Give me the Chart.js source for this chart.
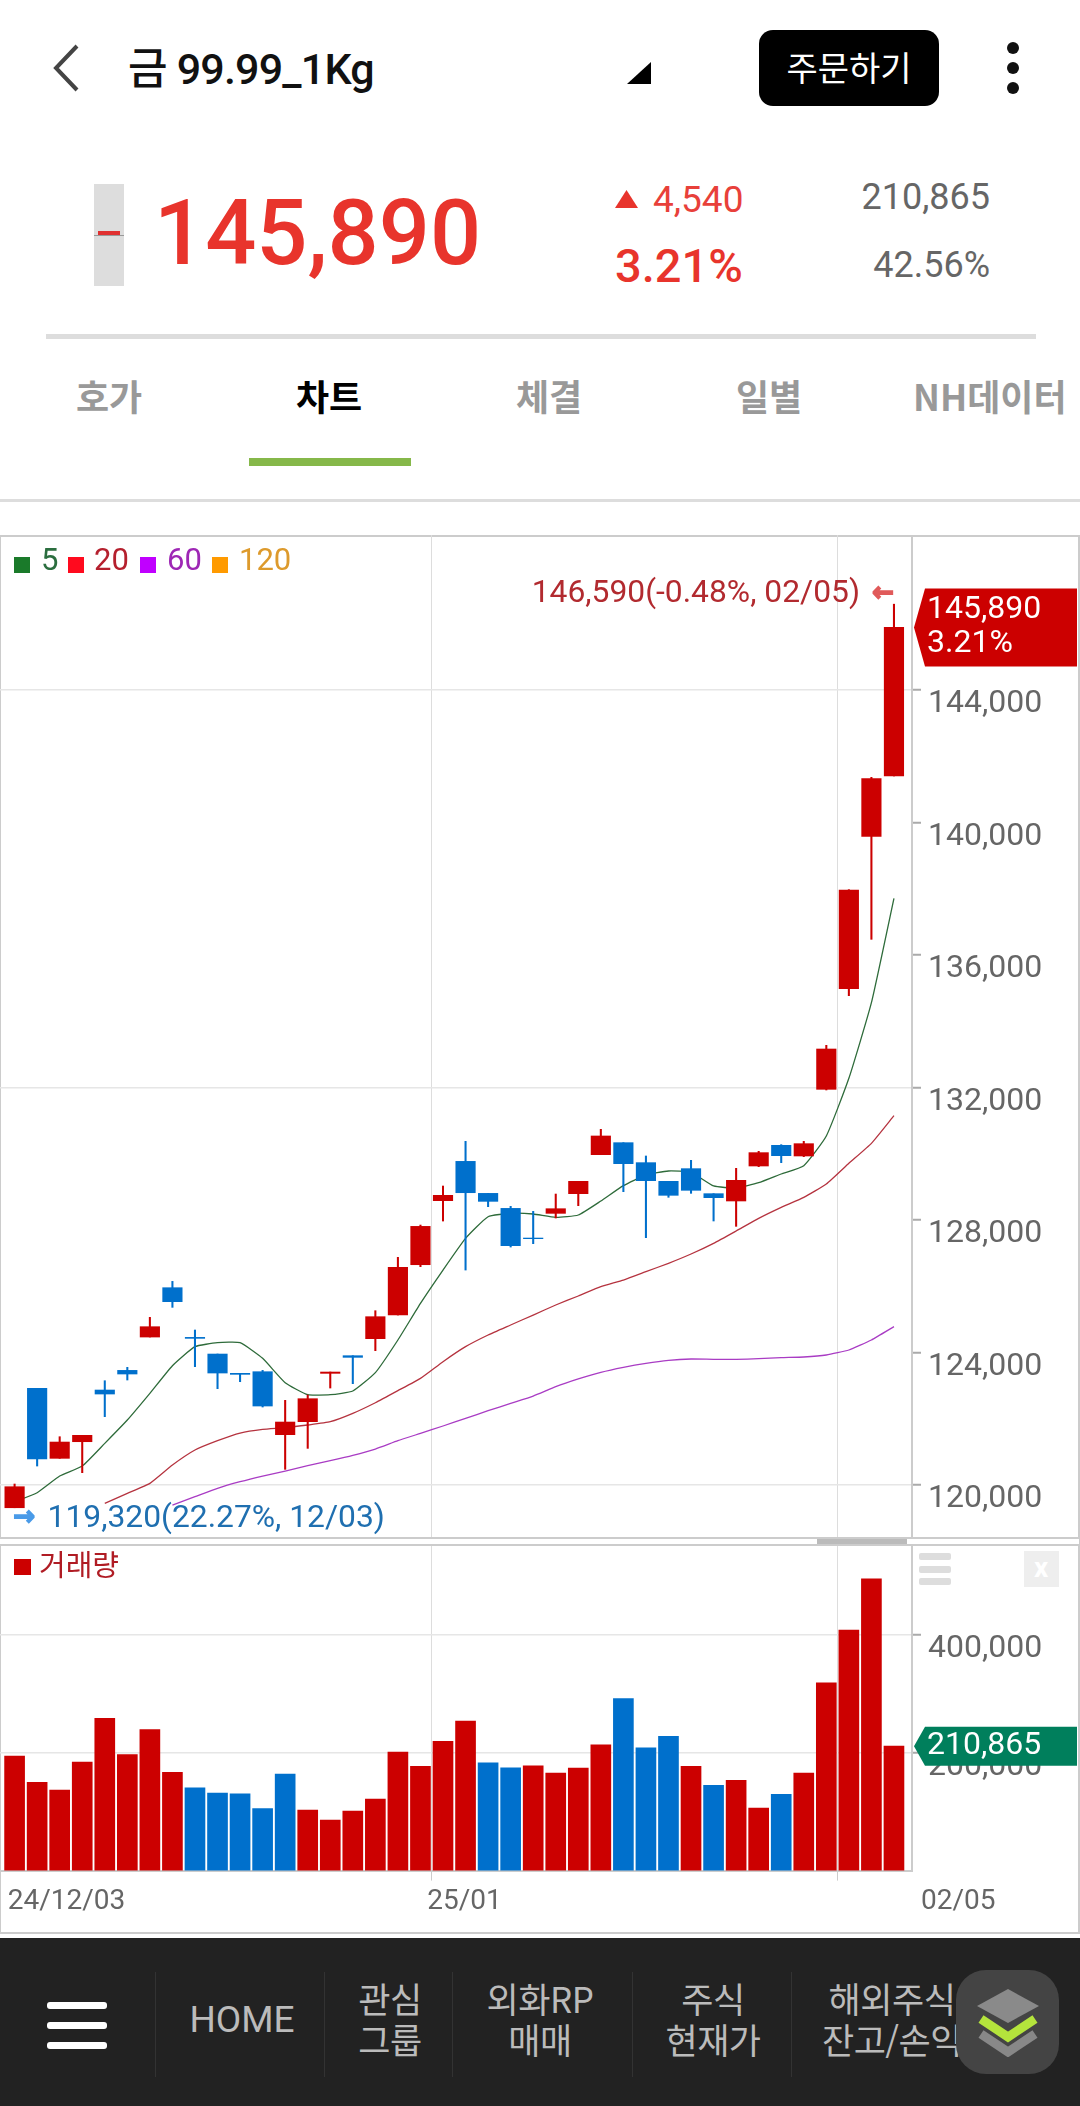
<!DOCTYPE html>
<html lang="ko">
<head>
<meta charset="utf-8">
<title>금 99.99_1Kg</title>
<script src="https://cdn.jsdelivr.net/npm/chart.js@4"></script>
<style>
html, body { margin: 0; padding: 0; background: #fff; width: 1080px; height: 2106px; overflow: hidden; }
body { position: relative; font-family: Roboto, "Noto Sans CJK KR", sans-serif; }
.t { position: absolute; line-height: 0; white-space: nowrap; }
.c { transform: translateX(-50%); }
.box { position: absolute; }
canvas { position: absolute; left: 0; }
.tab { font-size: 36px; font-weight: 700; color: #999; top: 395px; font-family: "Noto Sans CJK KR", sans-serif; }
.nav { font-size: 35px; color: #bbb; font-family: "Noto Sans CJK KR", sans-serif; letter-spacing: -0.5px; }
.sq { position: absolute; width: 16px; height: 16px; top: 557px; }
.lg { font-size: 31px; top: 560px; }
.bar { position: absolute; left: 47px; width: 60px; height: 7px; background: #fff; border-radius: 3px; }
.div { position: absolute; top: 1972px; width: 1px; height: 105px; background: #333; }
.hb { position: absolute; left: 919px; width: 32px; height: 7px; background: #ddd; border-radius: 2px; }
</style>
</head>
<body>
<!-- header -->
<svg class="box" style="left:50px;top:42px" width="34" height="52"><polyline points="27,4 6,26 27,48" fill="none" stroke="#444" stroke-width="4"/></svg>
<div class="t" style="left:128px;top:69px;font-size:43px;font-weight:500;color:#111;letter-spacing:-0.8px">금 99.99_1Kg</div>
<svg class="box" style="left:627px;top:62px" width="24" height="22"><polygon points="24,0 24,22 0,22" fill="#000"/></svg>
<div class="box" style="left:759px;top:30px;width:180px;height:76px;background:#000;border-radius:14px"></div>
<div class="t c" style="left:849px;top:67px;font-size:34px;color:#fff;font-family:'Noto Sans CJK KR'">주문하기</div>
<div class="box" style="left:1007px;top:42px;width:12px;height:12px;border-radius:6px;background:#111"></div>
<div class="box" style="left:1007px;top:62px;width:12px;height:12px;border-radius:6px;background:#111"></div>
<div class="box" style="left:1007px;top:82px;width:12px;height:12px;border-radius:6px;background:#111"></div>

<!-- quote -->
<div class="box" style="left:94px;top:184px;width:30px;height:102px;background:#ddd"></div>
<div class="box" style="left:98px;top:231px;width:22px;height:4px;background:#e03030"></div>
<div class="box" style="left:94px;top:235px;width:30px;height:1px;background:#999"></div>
<div class="t" style="left:154px;top:234px;font-size:90px;font-weight:500;color:#e8342c">145,890</div>
<svg class="box" style="left:615px;top:190px" width="23" height="18"><polygon points="11.5,0 23,18 0,18" fill="#e8342c"/></svg>
<div class="t" style="left:653px;top:200px;font-size:37px;color:#e8403a">4,540</div>
<div class="t" style="left:615px;top:266px;font-size:47px;font-weight:500;color:#e8342c">3.21%</div>
<div class="t" style="right:90px;top:197px;font-size:36px;color:#666">210,865</div>
<div class="t" style="right:90px;top:265px;font-size:36px;color:#666">42.56%</div>
<div class="box" style="left:46px;top:334px;width:990px;height:5px;background:#ddd"></div>

<!-- tabs -->
<div class="t tab" style="left:76px">호가</div>
<div class="t tab" style="left:296px;color:#000">차트</div>
<div class="t tab" style="left:516px">체결</div>
<div class="t tab" style="left:736px">일별</div>
<div class="t tab" style="left:913px">NH데이터</div>
<div class="box" style="left:249px;top:458px;width:162px;height:8px;background:#86b84a"></div>
<div class="box" style="left:0;top:499px;width:1080px;height:3px;background:#ddd"></div>

<!-- chart panel -->
<div class="box" style="left:0;top:535px;width:1077px;height:1395px;border:2px solid #ccc;border-left-width:1px;box-sizing:content-box"></div>
<div class="box" style="left:0;top:1537px;width:1079px;height:9px;background:#fff;border-top:2px solid #ccc;border-bottom:2px solid #ccc;box-sizing:border-box"></div>
<canvas id="priceChart" style="top:535px" width="1080" height="1002"></canvas>
<canvas id="volumeChart" style="top:1546px" width="1080" height="384"></canvas>
<div class="box" style="left:817px;top:1539px;width:90px;height:5px;background:#bbb"></div>

<div class="sq" style="left:14px;background:#1a7a2a"></div><div class="t lg" style="left:41px;color:#2b6e3f">5</div>
<div class="sq" style="left:68px;background:#ff0a1e"></div><div class="t lg" style="left:94px;color:#b5202e">20</div>
<div class="sq" style="left:140px;background:#c000ff"></div><div class="t lg" style="left:167px;color:#9e27b5">60</div>
<div class="sq" style="left:212px;background:#ff9a00"></div><div class="t lg" style="left:239px;color:#dd9a2c">120</div>

<div class="box" style="left:14px;top:1559px;width:17px;height:16px;background:#c00"></div>
<div class="t" style="left:39px;top:1563px;font-size:29px;color:#b01c24;font-family:'Noto Sans CJK KR'">거래량</div>
<div class="hb" style="top:1553px"></div><div class="hb" style="top:1566px"></div><div class="hb" style="top:1578px"></div>
<div class="box" style="left:1024px;top:1551px;width:35px;height:36px;background:#eee"></div>
<div class="t c" style="left:1041px;top:1568px;font-size:28px;font-weight:700;color:#fff">x</div>

<!-- bottom nav -->
<div class="box" style="left:0;top:1938px;width:1080px;height:168px;background:#222"></div>
<div class="bar" style="top:2002px"></div><div class="bar" style="top:2022px"></div><div class="bar" style="top:2042px"></div>
<div class="div" style="left:155px"></div><div class="div" style="left:324px"></div><div class="div" style="left:452px"></div><div class="div" style="left:632px"></div><div class="div" style="left:791px"></div>
<div class="t c" style="left:242px;top:2020px;font-size:37px;color:#bbb">HOME</div>
<div class="t c nav" style="left:390px;top:1998px">관심</div><div class="t c nav" style="left:390px;top:2039px">그룹</div>
<div class="t c nav" style="left:540px;top:1998px">외화RP</div><div class="t c nav" style="left:540px;top:2039px">매매</div>
<div class="t c nav" style="left:713px;top:1998px">주식</div><div class="t c nav" style="left:713px;top:2039px">현재가</div>
<div class="t c nav" style="left:892px;top:1998px">해외주식</div><div class="t c nav" style="left:892px;top:2039px">잔고/손익</div>
<div class="box" style="left:956px;top:1970px;width:103px;height:104px;background:#444;border-radius:30px"></div>
<svg class="box" style="left:977px;top:1989px" width="62" height="68">
  <polyline points="4,45 31,63 58,45" fill="none" stroke="#888" stroke-width="9"/>
  <polygon points="31,0 62,17 31,34 0,17" fill="#8a8a8a"/>
  <polyline points="4,30 31,48 58,30" fill="none" stroke="#b4e43c" stroke-width="9"/>
</svg>

<script>
// --- Data ---
const opens  = [119320,122923,120811,121313,122873,123466,124472,125961,124462,123959,123376,123426,121525,121917,123376,123909,124422,125136,126655,128587,129774,128808,128355,127460,128205,128799,129976,130338,129735,129171,129554,128799,128578,129634,130258,129936,131948,134986,139584,141405];
const highs  = [120036,122923,121464,121505,123154,123557,125066,126152,124684,123959,123376,123466,122561,122722,123416,123909,125267,126877,127852,129030,130378,128808,128416,128265,128788,129171,130741,130338,129936,129171,129805,128799,129564,130077,130278,130378,133276,137974,141364,146590];
const lows   = [119320,120579,120811,120378,122068,123175,124472,125368,123577,122913,123124,122360,120479,121112,122933,123064,124060,125136,126595,127973,126494,128406,127188,127289,128064,128437,129976,128859,127471,128689,128809,127974,127813,129614,129735,129916,131928,134775,136475,141405];
const closes = [119955,120790,121303,121505,122752,123356,124784,125539,124432,123386,123346,122390,121907,122611,123416,123859,125086,126575,127812,128748,128828,128567,127229,127440,128345,129171,130540,129705,129191,128749,128900,128678,129202,130037,129946,130308,133165,137964,141324,145890];

const ma5  = [119502,119774,120277,120579,121263,121967,122772,123607,124181,124301,124301,123829,123094,122732,122732,122843,123396,124382,125488,126494,127450,128104,128205,128185,128085,128155,128578,129041,129363,129483,129443,129031,128970,129131,129393,129644,130540,132280,134564,137713];
const ma20 = [null,null,null,null,119452,119754,120056,120609,121062,121344,121575,121686,121736,121817,121917,122169,122490,122853,123225,123728,124181,124533,124835,125136,125439,125711,125992,126193,126445,126697,126978,127300,127673,128055,128387,128688,129091,129715,130318,131153];
const ma60 = [null,null,null,null,null,null,null,119402,119653,119905,120106,120277,120428,120589,120740,120901,121092,121344,121565,121787,122018,122249,122471,122692,122974,123206,123407,123558,123679,123769,123809,123799,123799,123819,123850,123870,123930,124081,124383,124785];

const volumes = [194000,149600,136300,183800,258000,196500,239000,166700,140100,131200,130000,105200,163500,102700,85600,100800,121100,201000,176900,219300,253600,182600,174300,177500,165500,173700,213000,291600,207900,227600,176900,144500,152800,105900,129300,165500,318200,407600,494500,210865];
const volumeDownDays = [8,9,10,11,12,21,22,27,28,29,31,34];

const priceTicks  = [120000,124000,128000,132000,136000,140000,144000];
const volumeTicks = [200000,400000];
const monthLines  = [18.5,36.5];
const dateLabels  = ['24/12/03','25/01','02/05'];

const RED = '#cc0000', BLUE = '#0070cc';
const FONT = 'Roboto, "Noto Sans CJK KR", sans-serif';
const days = closes.map((_, i) => i);

// --- Shared scale bits ---
const xRange = { type: 'linear', min: -0.647, max: 39.8, offset: false };
const fmt = v => Number(v).toLocaleString('en-US');
const xGrid = { color: '#dddddd', lineWidth: 1, offset: false };
const noPadding = s => { s.paddingTop = s.paddingBottom = s.paddingLeft = s.paddingRight = 0; };

function yAxis(tickValues, min, max, gridColor) {
    return {
        position: 'right', min, max,
        afterBuildTicks: s => { s.ticks = tickValues.map(value => ({ value })); },
        afterFit: s => { s.width = 168; noPadding(s); },
        border: { color: '#cccccc', width: 2 },
        grid: { color: gridColor, lineWidth: 1.5, tickLength: 9, tickColor: '#aaaaaa', tickWidth: 2 },
        ticks: { color: '#666', font: { family: FONT, size: 32 }, padding: 7, labelOffset: 14, callback: fmt }
    };
}

// Price tag on the right axis, sits at the value through the y scale
function drawTag(chart, value, color, lines, h) {
    const { ctx, scales: { y } } = chart;
    const cy = y.getPixelForValue(value);
    ctx.save();
    ctx.fillStyle = color;
    ctx.beginPath();
    ctx.moveTo(914, cy);
    ctx.lineTo(925, cy - h / 2);
    ctx.lineTo(1077, cy - h / 2);
    ctx.lineTo(1077, cy + h / 2);
    ctx.lineTo(925, cy + h / 2);
    ctx.closePath();
    ctx.fill();
    ctx.fillStyle = '#fff';
    ctx.font = '32px ' + FONT;
    ctx.textBaseline = 'middle';
    lines.forEach((s, i) => ctx.fillText(s, 927, cy + (i - (lines.length - 1) / 2) * 34));
    ctx.restore();
}

const priceNotes = {
    id: 'priceNotes',
    afterDraw(chart) {
        const { ctx, scales: { x, y } } = chart;
        const hi = highs.indexOf(Math.max(...highs));
        const lo = lows.indexOf(Math.min(...lows));
        ctx.save();
        ctx.font = '31.8px ' + FONT;
        ctx.textBaseline = 'middle';
        // highest / lowest notes
        ctx.fillStyle = '#b22a2f';
        ctx.textAlign = 'right';
        ctx.fillText('146,590(-0.48%, 02/05)', x.getPixelForValue(hi) - 34, y.getPixelForValue(highs[hi]) - 10);
        ctx.fillStyle = '#1f6fb0';
        ctx.textAlign = 'left';
        ctx.fillText('119,320(22.27%, 12/03)', x.getPixelForValue(lo) + 33, y.getPixelForValue(lows[lo]) + 11);
        // little arrows
        ctx.font = 'bold 26px "DejaVu Sans"';
        ctx.lineWidth = 1.6;
        ctx.fillStyle = ctx.strokeStyle = '#e05a5a';
        ctx.textAlign = 'right';
        ctx.fillText('←', x.getPixelForValue(hi) - 0, y.getPixelForValue(highs[hi]) - 10);
        ctx.strokeText('←', x.getPixelForValue(hi) - 0, y.getPixelForValue(highs[hi]) - 10);
        ctx.fillStyle = ctx.strokeStyle = '#4a9be8';
        ctx.textAlign = 'left';
        ctx.fillText('→', x.getPixelForValue(lo) - 1, y.getPixelForValue(lows[lo]) + 11);
        ctx.strokeText('→', x.getPixelForValue(lo) - 1, y.getPixelForValue(lows[lo]) + 11);
        ctx.restore();
        drawTag(chart, closes[closes.length - 1], RED, ['145,890', '3.21%'], 78);
    }
};

const volumeNotes = {
    id: 'volumeNotes',
    afterDraw(chart) {
        const { ctx, scales: { x } } = chart;
        drawTag(chart, volumes[volumes.length - 1], '#007f5c', ['210,865'], 39);
        ctx.save();
        ctx.font = '28px ' + FONT;
        ctx.fillStyle = '#666';
        ctx.textBaseline = 'middle';
        ctx.fillText(dateLabels[0], x.getPixelForValue(-0.3), 356);
        ctx.fillText(dateLabels[1], x.getPixelForValue(18.3), 356);
        ctx.fillText(dateLabels[2], 921, 356);
        ctx.restore();
    }
};

// --- Price chart ---
const candleColor = closes.map((c, i) => c >= opens[i] ? RED : BLUE);
const maLine = (label, vals, color) => ({
    type: 'line', label, order: 3, borderColor: color, borderWidth: 1.3, pointRadius: 0, tension: 0.15,
    data: days.map(i => ({ x: i, y: vals[i] }))
});

new Chart(document.getElementById('priceChart').getContext('2d'), {
    data: {
        datasets: [
            maLine('5', ma5, '#2e6b3a'),
            maLine('20', ma20, '#b5333f'),
            maLine('60', ma60, '#a93cc4'),
            { type: 'bar', label: 'wick', order: 2, grouped: false, barThickness: 1.4,
              backgroundColor: candleColor, data: days.map(i => ({ x: i, y: [lows[i], highs[i]] })) },
            { type: 'bar', label: 'body', order: 1, grouped: false, barThickness: 19.5,
              backgroundColor: candleColor, data: days.map(i => ({ x: i, y: [opens[i], closes[i]] })) }
        ]
    },
    options: {
        responsive: false, animation: false, devicePixelRatio: 1,
        layout: { padding: 0 },
        plugins: { legend: { display: false }, tooltip: { enabled: false } },
        scales: {
            x: { ...xRange, afterBuildTicks: s => { s.ticks = monthLines.map(value => ({ value })); },
                 afterFit: s => { s.height = 0; noPadding(s); },
                 border: { display: false },
                 grid: { ...xGrid, drawTicks: false }, ticks: { display: false, autoSkip: false } },
            y: yAxis(priceTicks, 118437, 148678, ctx => ctx.tick && ctx.tick.value % 12000 === 0 ? '#e6e6e6' : 'transparent')
        }
    },
    plugins: [priceNotes]
});

// --- Volume chart ---
new Chart(document.getElementById('volumeChart').getContext('2d'), {
    type: 'bar',
    data: {
        datasets: [{
            label: '거래량', barThickness: 20,
            backgroundColor: days.map(i => volumeDownDays.includes(i) ? BLUE : RED),
            data: days.map(i => ({ x: i, y: volumes[i] }))
        }]
    },
    options: {
        responsive: false, animation: false, devicePixelRatio: 1,
        layout: { padding: 0 },
        plugins: { legend: { display: false }, tooltip: { enabled: false } },
        scales: {
            x: { ...xRange, afterBuildTicks: s => { s.ticks = monthLines.map(value => ({ value })); },
                 afterFit: s => { s.height = 59.4; noPadding(s); },
                 border: { color: '#cccccc', width: 2 },
                 grid: { ...xGrid, tickLength: 10, tickColor: '#cccccc' }, ticks: { display: false, autoSkip: false } },
            y: yAxis(volumeTicks, 0, 550170, '#e6e6e6')
        }
    },
    plugins: [volumeNotes]
});
</script>
</body>
</html>
